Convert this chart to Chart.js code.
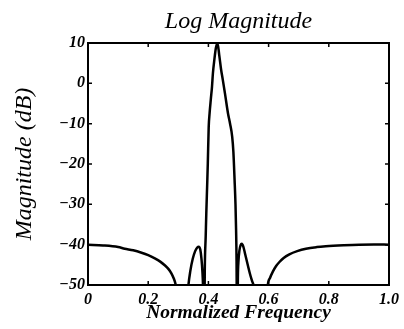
<!DOCTYPE html>
<html>
<head>
<meta charset="utf-8">
<script src="https://cdn.jsdelivr.net/npm/chart.js@4/dist/chart.umd.min.js"></script>
<style>
  html, body { margin: 0; padding: 0; background: #fff; }
  #wrap { width: 404px; height: 329px; }
</style>
</head>
<body>
<div id="wrap"><canvas id="chart" width="404" height="329"></canvas></div>
<script>
// Normalized frequency samples and log magnitude (dB).
// Points below -50 dB sit outside the axis and are clipped away.
const freq = [
  0, 0.05, 0.1, 0.122, 0.15, 0.178, 0.2, 0.222, 0.24, 0.255, 0.267, 0.277, 0.285, 0.291, 0.296, 0.300,
  0.315,
  0.328, 0.333, 0.340, 0.348, 0.356, 0.363, 0.368, 0.373, 0.377, 0.380, 0.382, 0.384,
  0.3855,
  0.387, 0.388, 0.391, 0.393, 0.396, 0.398, 0.401, 0.404, 0.408, 0.412, 0.415, 0.420, 0.425, 0.430,
  0.436, 0.442, 0.448, 0.455, 0.465, 0.472, 0.479, 0.483, 0.487, 0.490, 0.492, 0.4935, 0.494, 0.4945,
  0.4955,
  0.497, 0.498, 0.500, 0.503, 0.507, 0.511, 0.516, 0.522, 0.530, 0.538, 0.545, 0.551, 0.556,
  0.575,
  0.592, 0.597, 0.605, 0.614, 0.625, 0.636, 0.650, 0.669, 0.695, 0.724, 0.760, 0.790, 0.85, 0.901, 0.95, 1.0
];
const magDb = [
  -40.0, -40.2, -40.6, -41.0, -41.4, -42.0, -42.6, -43.4, -44.2, -45.1, -46.0, -47.1, -48.4, -49.8, -52, -56,
  -70,
  -56, -50.5, -46.5, -43.5, -41.6, -40.7, -40.5, -41.2, -43.5, -46.5, -50, -58,
  -70,
  -56, -46.3, -38, -32.3, -25, -19.9, -10.8, -7.4, -4, -0.8, 2.5, 6, 8.8, 10,
  7, 3.5, 0.8, -2.5, -7.4, -10, -13.2, -17, -24, -30, -36.4, -44, -50, -58,
  -70,
  -56, -48, -44, -41.5, -40.1, -39.8, -40.5, -42.3, -44.8, -47.2, -49, -50.5, -54,
  -70,
  -56, -50.2, -48.2, -46.7, -45.3, -44.3, -43.3, -42.4, -41.6, -41.0, -40.6, -40.4, -40.15, -40.0, -39.95, -40.0
];
const xTicks = [0, 0.2, 0.4, 0.6, 0.8, 1.0];
const yTicks = [10, 0, -10, -20, -30, -40, -50];

const points = freq.map((f, i) => ({ x: f, y: magDb[i] }));
const serif = "'Liberation Serif', 'DejaVu Serif', serif";

// Box round the plot plus short inward tick marks on all four sides
const frameTicks = {
  id: 'frameTicks',
  afterDatasetsDraw(chart) {
    const { ctx, chartArea: a, scales } = chart;
    const len = 4;
    ctx.save();
    ctx.strokeStyle = '#000';
    ctx.lineWidth = 1.5;
    ctx.beginPath();
    for (const v of xTicks) {
      const px = scales.x.getPixelForValue(v);
      ctx.moveTo(px, a.bottom); ctx.lineTo(px, a.bottom - len);
      ctx.moveTo(px, a.top); ctx.lineTo(px, a.top + len);
    }
    for (const v of yTicks) {
      const py = scales.y.getPixelForValue(v);
      ctx.moveTo(a.left, py); ctx.lineTo(a.left + len, py);
      ctx.moveTo(a.right, py); ctx.lineTo(a.right - len, py);
    }
    ctx.stroke();
    ctx.lineWidth = 2;
    ctx.strokeRect(a.left, a.top, a.right - a.left, a.bottom - a.top);
    ctx.restore();
  }
};

new Chart(document.getElementById('chart'), {
  type: 'line',
  data: {
    datasets: [{
      data: points,
      borderColor: '#000',
      borderWidth: 2.5,
      pointRadius: 0,
      cubicInterpolationMode: 'monotone',
      fill: false,
      clip: 0
    }]
  },
  options: {
    responsive: false,
    animation: false,
    layout: { padding: { left: 0, right: 14, top: 0, bottom: 0 } },
    plugins: {
      legend: { display: false },
      tooltip: { enabled: false },
      title: {
        display: true,
        fullSize: false,
        text: 'Log Magnitude',
        color: '#000',
        font: { family: serif, size: 24, style: 'italic', weight: 'normal', lineHeight: 1.1 },
        padding: { top: 8, bottom: 8.6 },
        align: 'center'
      }
    },
    scales: {
      x: {
        type: 'linear',
        min: 0,
        max: 1,
        afterBuildTicks: s => { s.ticks = xTicks.map(v => ({ value: v })); },
        afterFit: s => { s.height = 44; },
        grid: { display: false, drawTicks: false },
        border: { display: false },
        ticks: {
          padding: 5,
          color: '#000',
          maxRotation: 0,
          font: { family: serif, size: 16, style: 'italic', weight: 'bold' },
          callback: v => (v === 0 ? '0' : v.toFixed(1))
        },
        title: {
          display: true,
          text: 'Normalized Frequency',
          color: '#000',
          padding: { top: 0, bottom: 4 },
          font: { family: serif, size: 19.5, style: 'italic', weight: 'bold' }
        }
      },
      y: {
        min: -50,
        max: 10,
        afterBuildTicks: s => { s.ticks = yTicks.map(v => ({ value: v })); },
        afterFit: s => { s.width = 88; },
        grid: { display: false, drawTicks: false },
        border: { display: false },
        ticks: {
          padding: 3,
          color: '#000',
          font: { family: serif, size: 16, style: 'italic', weight: 'bold' },
          callback: v => String(v).replace('-', '\u2212')
        },
        title: {
          display: true,
          text: 'Magnitude (dB)',
          color: '#000',
          padding: { top: 11, bottom: 0 },
          font: { family: serif, size: 24, style: 'italic', weight: 'normal', lineHeight: 1.1 }
        }
      }
    }
  },
  plugins: [frameTicks]
});
</script>
</body>
</html>
